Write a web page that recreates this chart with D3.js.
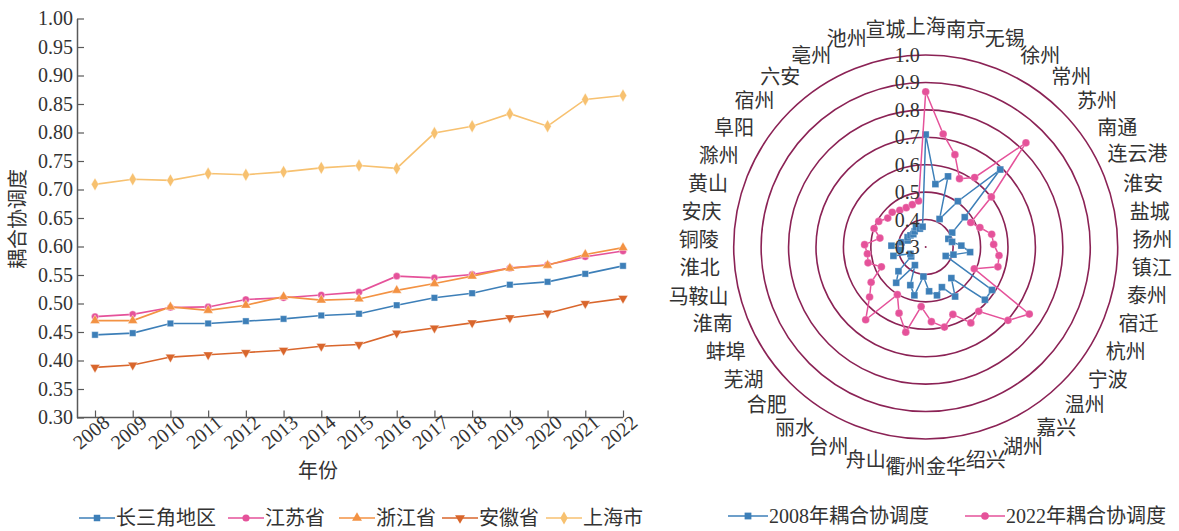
<!DOCTYPE html>
<html><head><meta charset="utf-8">
<script src="https://cdn.jsdelivr.net/npm/d3@7"></script>
<style>
body{margin:0;background:#fff;}
svg text{font-family:"Liberation Serif","Noto Sans CJK SC",serif;fill:#333;}
</style></head><body>
<svg id="c" width="1179" height="531"></svg>
<script>
// ---------- data: left line chart ----------
const years = [2008,2009,2010,2011,2012,2013,2014,2015,2016,2017,2018,2019,2020,2021,2022];
const yTicks = [0.30,0.35,0.40,0.45,0.50,0.55,0.60,0.65,0.70,0.75,0.80,0.85,0.90,0.95,1.00];
const seriesNames = ["长三角地区","江苏省","浙江省","安徽省","上海市"];
const yrdValues      = [0.445,0.448,0.465,0.465,0.469,0.473,0.479,0.482,0.497,0.510,0.518,0.533,0.538,0.552,0.566];
const jiangsuValues  = [0.477,0.481,0.493,0.494,0.507,0.510,0.515,0.520,0.548,0.545,0.551,0.562,0.568,0.582,0.592];
const zhejiangValues = [0.470,0.470,0.494,0.488,0.497,0.512,0.506,0.508,0.523,0.535,0.548,0.562,0.567,0.586,0.598];
const anhuiValues    = [0.388,0.392,0.406,0.410,0.414,0.418,0.425,0.428,0.448,0.457,0.466,0.475,0.483,0.500,0.509];
const shanghaiValues = [0.709,0.718,0.716,0.728,0.726,0.731,0.738,0.742,0.737,0.799,0.811,0.833,0.811,0.858,0.865];

// ---------- data: radar chart ----------
const cities = ["上海","南京","无锡","徐州","常州","苏州","南通","连云港","淮安","盐城","扬州","镇江","泰州","宿迁",
  "杭州","宁波","温州","嘉兴","湖州","绍兴","金华","衢州","舟山","台州","丽水",
  "合肥","芜湖","蚌埠","淮南","马鞍山","淮北","铜陵","安庆","黄山","滁州","阜阳","宿州","六安","亳州","池州","宣城"];
const radarTicks = [0.3,0.4,0.5,0.6,0.7,0.8,0.9,1.0];
const radarNames = ["2008年耦合协调度","2022年耦合协调度"];
const values2008 = [0.710,0.532,0.570,0.414,0.504,0.692,0.479,0.410,0.388,0.398,0.430,0.463,0.405,0.380,
  0.588,0.589,0.447,0.510,0.458,0.481,0.462,0.408,0.481,0.450,0.377,
  0.469,0.433,0.363,0.361,0.422,0.394,0.425,0.390,0.370,0.375,0.370,0.365,0.370,0.380,0.370,0.375];
const values2022 = [0.866,0.717,0.653,0.578,0.610,0.827,0.601,0.487,0.510,0.545,0.548,0.569,0.573,0.494,
  0.750,0.702,0.604,0.622,0.565,0.600,0.573,0.518,0.619,0.560,0.502,
  0.644,0.574,0.537,0.477,0.518,0.514,0.523,0.470,0.500,0.495,0.474,0.476,0.464,0.460,0.462,0.470];

const svg = d3.select("#c");
const AX = "#595959";

// ================= LEFT CHART =================
const x = d3.scalePoint().domain(years).range([95, 623]);
const y = d3.scaleLinear().domain([0.3, 1.0]).range([417.5, 18.5]);

const series = [
  {name: seriesNames[0], vals: yrdValues,      color: "#3d7fb8", sym: d3.symbolSquare,   size: 42, rot: 0},
  {name: seriesNames[1], vals: jiangsuValues,  color: "#e5529a", sym: d3.symbolCircle,   size: 40, rot: 0},
  {name: seriesNames[2], vals: zhejiangValues, color: "#f39243", sym: d3.symbolTriangle, size: 42, rot: 0},
  {name: seriesNames[3], vals: anhuiValues,    color: "#d9662c", sym: d3.symbolTriangle, size: 42, rot: 180},
  {name: seriesNames[4], vals: shanghaiValues, color: "#f7c170", sym: d3.symbolDiamond,  size: 48, rot: 0}
];

// y axis
const yAxis = svg.append("g").attr("transform", "translate(77,0)")
  .call(d3.axisLeft(y).tickValues(yTicks).tickFormat(d3.format(".2f"))
        .tickSizeInner(-7).tickSizeOuter(0).tickPadding(4));
yAxis.select(".domain").attr("stroke", AX).attr("stroke-width", 1.5);
yAxis.selectAll(".tick line").attr("stroke", AX).attr("stroke-width", 1.2);
yAxis.selectAll(".tick text").attr("font-size", 20).attr("fill", "#333")
  .style("font-family", "Liberation Serif");

// x axis
const xAxis = svg.append("g").attr("transform", "translate(0,417.5)")
  .call(d3.axisBottom(x).tickSizeInner(-7).tickSizeOuter(0).tickFormat(d3.format("d")));
xAxis.select(".domain").attr("d", "M77,0H623").attr("stroke", AX).attr("stroke-width", 1.5);
xAxis.selectAll(".tick line").attr("stroke", AX).attr("stroke-width", 1.2);
xAxis.selectAll(".tick text").attr("font-size", 20).attr("fill", "#333")
  .style("font-family", "Liberation Serif")
  .attr("text-anchor", "middle").attr("dy", null).attr("y", null)
  .attr("transform", "translate(0,20) rotate(-40)");

// axis titles
svg.append("text").attr("x", 318).attr("y", 478).attr("text-anchor", "middle")
  .attr("font-size", 20).text("年份");
svg.append("text").attr("transform", "translate(18,219) rotate(-90)").attr("text-anchor", "middle")
  .attr("dominant-baseline", "central").attr("font-size", 20).text("耦合协调度");

const line = d3.line().x((d, i) => x(years[i])).y(d => y(d));
series.forEach(s => {
  const g = svg.append("g");
  g.append("path").datum(s.vals).attr("d", line).attr("fill", "none")
    .attr("stroke", s.color).attr("stroke-width", 1.6);
  g.selectAll("path.m").data(s.vals).enter().append("path").attr("class", "m")
    .attr("d", d3.symbol().type(s.sym).size(s.size))
    .attr("transform", (d, i) => `translate(${x(years[i])},${y(d)}) rotate(${s.rot})`)
    .attr("fill", s.color).attr("stroke", "#fff").attr("stroke-opacity", 0.5).attr("stroke-width", 0.8);
});

// left legend
const legStarts = [79, 228, 339, 442, 546];
series.forEach((s, i) => {
  const lx = legStarts[i], ly = 518;
  svg.append("line").attr("x1", lx).attr("x2", lx + 36).attr("y1", ly).attr("y2", ly)
    .attr("stroke", s.color).attr("stroke-width", 1.6);
  svg.append("path").attr("d", d3.symbol().type(s.sym).size(s.size))
    .attr("transform", `translate(${lx + 18},${ly}) rotate(${s.rot})`).attr("fill", s.color);
  svg.append("text").attr("x", lx + 37).attr("y", ly).attr("dy", "0.35em")
    .attr("font-size", 20).text(s.name);
});

// ================= RADAR CHART =================
const cx = 925.7, cy = 247;
const r = d3.scaleLinear().domain([0.3, 1.0]).range([0, 192]);
const RING = "#8b2255";
const n = cities.length;
const ang = i => i * 2 * Math.PI / n;

const rg = svg.append("g");
radarTicks.forEach(t => {
  if (t === 0.3) {
    rg.append("circle").attr("cx", cx).attr("cy", cy).attr("r", 1).attr("fill", RING);
  } else {
    rg.append("circle").attr("cx", cx).attr("cy", cy).attr("r", r(t))
      .attr("fill", "none").attr("stroke", RING).attr("stroke-width", 1.6);
  }
});

// category labels (spread slightly toward the horizontal, as in the original layout)
const FS = 20;
cities.forEach((c, i) => {
  const a = ang(i);
  const t = svg.append("text").attr("font-size", FS).attr("text-anchor", "middle")
    .attr("dominant-baseline", "central").text(c);
  const w = t.node().getComputedTextLength();
  const la = a + (5.7 * Math.PI / 180) * Math.sin(2 * a);
  const Rc = 220 + 7 * Math.abs(Math.sin(a)) + (w - 40) * 0.3 * Math.abs(Math.sin(a));
  t.attr("x", cx + Rc * Math.sin(la)).attr("y", cy - Rc * Math.cos(la));
});

// series
const radarSeries = [
  {name: radarNames[0], vals: values2008, color: "#3d7fb8", sym: d3.symbolSquare, size: 46},
  {name: radarNames[1], vals: values2022, color: "#e5529a", sym: d3.symbolCircle, size: 46}
];
const radial = d3.lineRadial().angle((d, i) => ang(i)).radius(d => r(d)).curve(d3.curveLinearClosed);
radarSeries.forEach(s => {
  const g = svg.append("g").attr("transform", `translate(${cx},${cy})`);
  g.append("path").datum(s.vals).attr("d", radial).attr("fill", "none")
    .attr("stroke", s.color).attr("stroke-width", 1.5);
  g.selectAll("path.m").data(s.vals).enter().append("path").attr("class", "m")
    .attr("d", d3.symbol().type(s.sym).size(s.size))
    .attr("transform", (d, i) => `translate(${r(d) * Math.sin(ang(i))},${-r(d) * Math.cos(ang(i))})`)
    .attr("fill", s.color).attr("stroke", "#fff").attr("stroke-opacity", 0.4).attr("stroke-width", 0.6);
});

// radial tick labels
radarTicks.forEach(t => {
  svg.append("text").attr("x", cx - 6).attr("y", cy - r(t)).attr("text-anchor", "end")
    .attr("dominant-baseline", "central").attr("font-size", 20)
    .style("font-family", "Liberation Serif").text(t.toFixed(1));
});

// right legend
const rlegStarts = [728, 965];
radarSeries.forEach((s, i) => {
  const lx = rlegStarts[i], ly = 516;
  svg.append("line").attr("x1", lx).attr("x2", lx + 40).attr("y1", ly).attr("y2", ly)
    .attr("stroke", s.color).attr("stroke-width", 1.6);
  svg.append("path").attr("d", d3.symbol().type(s.sym).size(s.size))
    .attr("transform", `translate(${lx + 20},${ly})`).attr("fill", s.color);
  svg.append("text").attr("x", lx + 41).attr("y", ly).attr("dy", "0.35em")
    .attr("font-size", 20).text(s.name);
});
</script>
</body></html>
